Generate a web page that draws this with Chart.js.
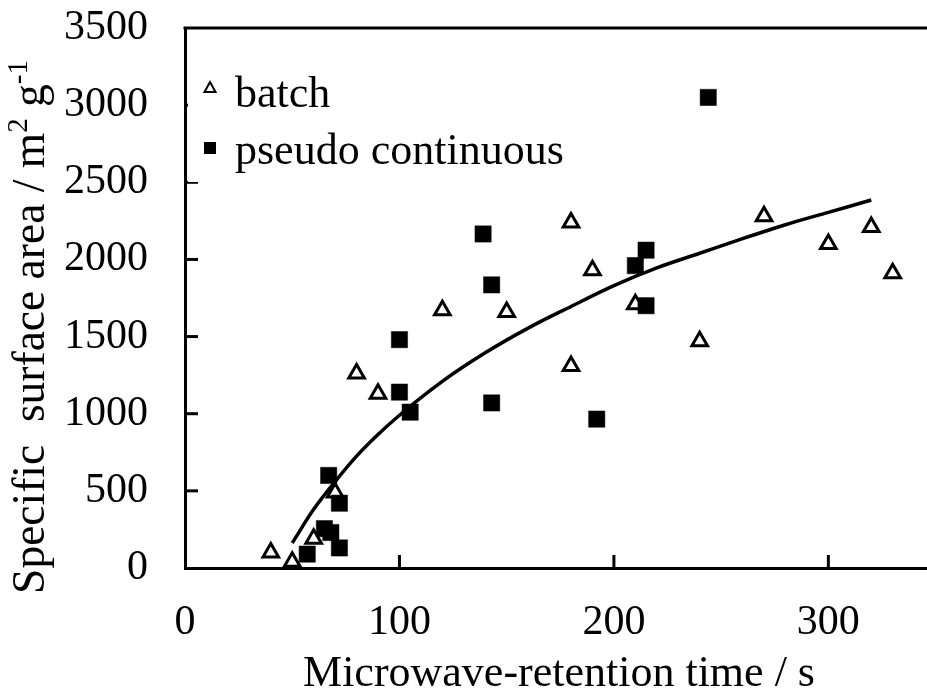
<!DOCTYPE html>
<html>
<head>
<meta charset="utf-8">
<title>Specific surface area vs microwave-retention time</title>
<script src="https://cdn.jsdelivr.net/npm/chart.js@4.4.1/dist/chart.umd.min.js"></script>
<style>
  html, body { margin: 0; padding: 0; background: #fff; overflow: hidden; }
  canvas { display: block; }
</style>
</head>
<body>
<canvas id="sbet" width="927" height="695"></canvas>
<script>
// batch runs (open triangles)
const batchTime = [40, 50, 60, 70, 80, 90, 120, 150, 180, 180, 190, 210, 240, 270, 300, 320, 330];
const batchArea = [100, 40, 190, 490, 1260, 1130, 1670, 1660, 2240, 1310, 1930, 1710, 1470, 2280, 2100, 2210, 1910];

// pseudo continuous runs (filled squares)
const contTime = [57, 65, 68, 72, 72, 67, 100, 100, 105, 139, 143, 143, 192, 210, 215, 215, 244];
const contArea = [90, 255, 230, 130, 420, 600, 1140, 1480, 1010, 2165, 1835, 1070, 965, 1960, 2060, 1700, 3050];

// trend line
const fitTime = [50, 60, 70, 80, 90, 100, 120, 140, 160, 180, 200, 220, 240, 260, 280, 300, 320];
const fitArea = [162, 380, 560, 725, 865, 990, 1210, 1395, 1555, 1695, 1830, 1945, 2040, 2135, 2225, 2305, 2385];

const xTicks = [0, 100, 200, 300];
const yTicks = [0, 500, 1000, 1500, 2000, 2500, 3000, 3500];

const SERIF = '"Liberation Serif", "Times New Roman", serif';

function toPoints(xs, ys) {
    return xs.map((x, i) => ({ x: x, y: ys[i] }));
}

// inward tick marks, top frame line, legend box and rotated y title
const decorations = {
    id: 'decorations',
    afterDraw(chart) {
        const ctx = chart.ctx;
        const area = chart.chartArea;
        const xs = chart.scales.x;
        const ys = chart.scales.y;

        ctx.save();
        ctx.strokeStyle = '#000';
        ctx.lineWidth = 3;
        ctx.lineCap = 'butt';

        // ticks pointing into the plot
        xTicks.forEach(v => {
            if (v === 0) return;
            const px = xs.getPixelForValue(v);
            ctx.beginPath();
            ctx.moveTo(px, area.bottom);
            ctx.lineTo(px, area.bottom - 13);
            ctx.stroke();
        });
        yTicks.forEach(v => {
            if (v === 0 || v === 3500) return;
            const py = ys.getPixelForValue(v);
            ctx.beginPath();
            ctx.moveTo(area.left, py);
            ctx.lineTo(area.left + 13, py);
            ctx.stroke();
        });

        // legend (white box hides the 3000 tick behind it)
        ctx.fillStyle = '#fff';
        ctx.fillRect(area.left + 3, 62, 390, 120);

        // top frame
        ctx.beginPath();
        ctx.moveTo(area.left - 1.5, area.top);
        ctx.lineTo(area.right, area.top);
        ctx.stroke();

        const legX = 210;
        ctx.fillStyle = '#000';
        ctx.lineWidth = 2;
        ctx.beginPath();
        ctx.moveTo(legX, 82);
        ctx.lineTo(legX + 5.5, 92);
        ctx.lineTo(legX - 5.5, 92);
        ctx.closePath();
        ctx.stroke();
        ctx.fillRect(legX - 6, 142, 12, 12);

        ctx.font = '44px ' + SERIF;
        ctx.textBaseline = 'alphabetic';
        ctx.textAlign = 'left';
        ctx.fillText(chart.data.datasets[0].label, 235, 107);
        ctx.fillText(chart.data.datasets[1].label, 235, 164);

        // y axis title with superscripts
        const parts = [
            { t: 'Specific  surface area / m', sup: false },
            { t: '2', sup: true },
            { t: ' g', sup: false },
            { t: '-1', sup: true }
        ];
        const big = '45.5px ' + SERIF;
        const small = '29px ' + SERIF;
        let total = 0;
        parts.forEach(p => {
            ctx.font = p.sup ? small : big;
            p.w = ctx.measureText(p.t).width;
            total += p.w;
        });
        ctx.translate(44, 327);
        ctx.rotate(-Math.PI / 2);
        let cx = -total / 2;
        parts.forEach(p => {
            ctx.font = p.sup ? small : big;
            ctx.fillText(p.t, cx, p.sup ? -17 : 0);
            cx += p.w;
        });
        ctx.restore();

        // x axis title
        ctx.save();
        ctx.font = '44px ' + SERIF;
        ctx.fillStyle = '#000';
        ctx.textAlign = 'center';
        ctx.textBaseline = 'alphabetic';
        ctx.fillText('Microwave-retention time / s', 559, 686);
        ctx.restore();
    }
};

document.addEventListener('DOMContentLoaded', function() {
    const ctx = document.getElementById('sbet');

    const config = {
        type: 'scatter',
        data: {
            datasets: [{
                label: 'batch',
                data: toPoints(batchTime, batchArea),
                pointStyle: 'triangle',
                pointRadius: 9,
                pointBorderWidth: 3,
                borderColor: '#000',
                backgroundColor: 'rgba(0,0,0,0)',
                clip: false,
                order: 2
            }, {
                label: 'pseudo continuous',
                data: toPoints(contTime, contArea),
                pointStyle: 'rect',
                pointRadius: 11.5,
                pointBorderWidth: 0.5,
                borderColor: '#000',
                backgroundColor: '#000',
                clip: false,
                order: 1
            }, {
                label: 'fit',
                data: toPoints(fitTime, fitArea),
                showLine: true,
                pointRadius: 0,
                borderColor: '#000',
                borderWidth: 3.5,
                cubicInterpolationMode: 'monotone',
                fill: false,
                order: 3
            }]
        },
        options: {
            responsive: false,
            animation: false,
            events: [],
            layout: {
                autoPadding: false,
                padding: { top: 28, right: 0, left: 0, bottom: 0 }
            },
            plugins: {
                legend: { display: false },
                tooltip: { enabled: false }
            },
            scales: {
                x: {
                    type: 'linear',
                    min: 0,
                    max: 346,
                    grid: { display: false, drawTicks: false },
                    border: { display: true, color: '#000', width: 3 },
                    ticks: {
                        stepSize: 100,
                        includeBounds: false,
                        padding: 30,
                        color: '#000',
                        font: { family: SERIF, size: 42 },
                        maxRotation: 0,
                        callback: v => String(v)
                    },
                    afterFit(scale) {
                        scale.height = 127;
                        scale.paddingLeft = 0;
                        scale.paddingRight = 0;
                    }
                },
                y: {
                    type: 'linear',
                    min: 0,
                    max: 3500,
                    grid: { display: false, drawTicks: false },
                    border: { display: true, color: '#000', width: 3 },
                    ticks: {
                        stepSize: 500,
                        padding: 37,
                        color: '#000',
                        font: { family: SERIF, size: 42 },
                        callback: v => String(v)
                    },
                    afterFit(scale) {
                        scale.width = 185;
                        scale.paddingTop = 0;
                        scale.paddingBottom = 0;
                    }
                }
            }
        },
        plugins: [decorations]
    };

    new Chart(ctx, config);
});
</script>
</body>
</html>
